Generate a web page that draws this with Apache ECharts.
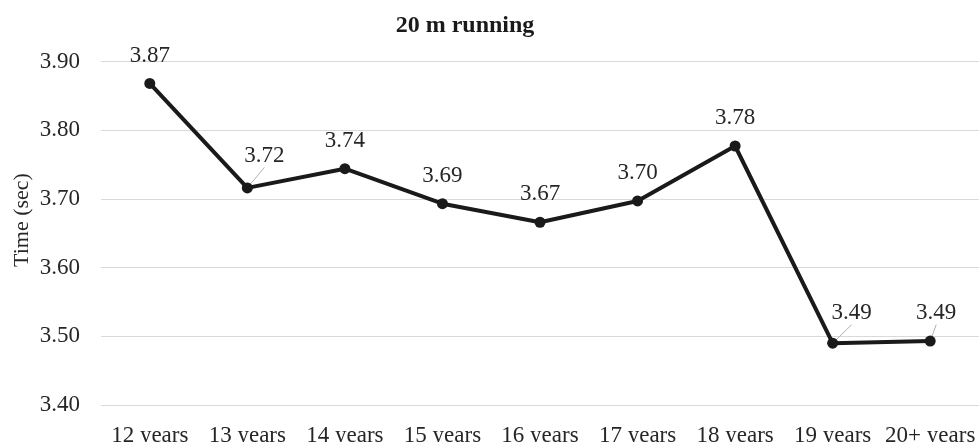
<!DOCTYPE html>
<html>
<head>
<meta charset="utf-8">
<script src="https://cdn.jsdelivr.net/npm/echarts@6/dist/echarts.min.js"></script>
<style>
  html, body { margin: 0; padding: 0; background: #fff; }
  #chart { width: 979px; height: 442px; }
</style>
</head>
<body>
<div id="chart"></div>
<script>
// Mean 20 m sprint time per age group
const categories = ['12 years', '13 years', '14 years', '15 years', '16 years', '17 years', '18 years', '19 years', '20+ years'];
const times = [3.868, 3.716, 3.744, 3.693, 3.666, 3.697, 3.777, 3.490, 3.493];
const yTicks = { min: 3.40, max: 3.90, step: 0.10 };
const yAxisTitle = 'Time (sec)';

// Labels that sit beside their point, joined by a short leader line
const labelShift = { 1: [17, -4], 7: [19, -2], 8: [6, 0] };

const serif = '"Liberation Serif", "Times New Roman", serif';
const chart = echarts.init(document.getElementById('chart'));

const seriesData = times.map((v, i) => ({
  value: v,
  labelLine: { show: labelShift[i] !== undefined }
}));

chart.setOption({
  animation: false,
  title: {
    text: '20 m running',
    left: 460,
    top: 9,
    textAlign: 'center',
    textStyle: { fontFamily: serif, fontWeight: 'bold', fontSize: 24, color: '#1a1a1a' }
  },
  // Vertical axis title, placed a little above the plot's middle
  graphic: [{
    type: 'text',
    x: 22,
    y: 220,
    rotation: Math.PI / 2,
    style: {
      text: yAxisTitle,
      fontFamily: serif,
      fontSize: 22,
      fill: '#262626',
      align: 'center',
      verticalAlign: 'middle'
    }
  }],
  grid: { left: 101, right: 0, top: 61.5, bottom: 37, outerBoundsMode: 'none', containLabel: false },
  xAxis: {
    type: 'category',
    data: categories,
    axisLine: { show: false },
    axisTick: { show: false },
    axisLabel: { interval: 0, fontFamily: serif, fontSize: 23, color: '#262626', margin: 19 }
  },
  yAxis: {
    type: 'value',
    min: yTicks.min,
    max: yTicks.max,
    interval: yTicks.step,
    axisLabel: {
      fontFamily: serif, fontSize: 23, color: '#262626', margin: 21,
      formatter: v => v.toFixed(2)
    },
    splitLine: { lineStyle: { color: '#d9d9d9', width: 1 } }
  },
  series: [{
    type: 'line',
    data: seriesData,
    symbol: 'circle',
    symbolSize: 11,
    lineStyle: { color: '#1a1a1a', width: 4 },
    itemStyle: { color: '#1a1a1a' },
    label: {
      show: true,
      position: 'top',
      distance: 11,
      fontFamily: serif,
      fontSize: 23,
      color: '#262626',
      formatter: p => p.value.toFixed(2)
    },
    labelLine: { show: false, lineStyle: { color: '#b0b0b0', width: 1 } },
    labelLayout: p => {
      const s = labelShift[p.dataIndex];
      return s ? { dx: s[0], dy: s[1] } : {};
    }
  }]
});
</script>
</body>
</html>
